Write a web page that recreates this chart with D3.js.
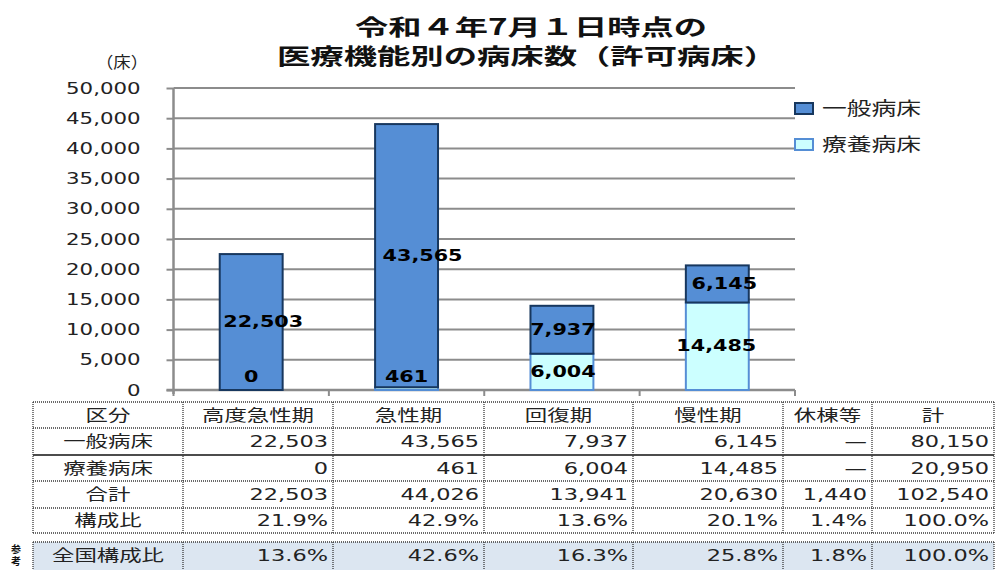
<!DOCTYPE html>
<html lang="ja">
<head>
<meta charset="utf-8">
<script src="https://cdn.jsdelivr.net/npm/d3@7"></script>
<style>
  html, body { margin: 0; padding: 0; background: #fff; }
  svg { display: block; }
  text { font-family: "DejaVu Sans", "Noto Sans CJK JP", sans-serif; }
  .jp { font-family: "Noto Sans CJK JP", "DejaVu Sans", sans-serif; }
</style>
</head>
<body>
<svg id="chart" width="997" height="570"></svg>
<script>
// ---- data ----
const categories = ["高度急性期", "急性期", "回復期", "慢性期"];
const seriesNames = ["一般病床", "療養病床"];
const ippan = [22503, 43565, 7937, 6145];   // 一般病床
const ryoyo = [0, 461, 6004, 14485];         // 療養病床
const yTicks = [0, 5000, 10000, 15000, 20000, 25000, 30000, 35000, 40000, 45000, 50000];

// table
const tableHeader = ["区分", "高度急性期", "急性期", "回復期", "慢性期", "休棟等", "計"];
const idleBeds = [null, null, 1440];          // 休棟等: 一般, 療養, 合計
const rowTotals = [80150, 20950, 102540];     // 計: 一般, 療養, 合計
const totals = [22503, 44026, 13941, 20630];  // 合計
const shareLocal = [21.9, 42.9, 13.6, 20.1, 1.4, 100.0];
const shareNational = [13.6, 42.6, 16.3, 25.8, 1.8, 100.0];

// ---- helpers ----
const svg = d3.select("#chart");
const fmt = d3.format(",");
const pct = v => v.toFixed(1) + "%";

// widen text horizontally by factor k
function stretch(sel, k) {
  sel.each(function () {
    const L = this.getComputedTextLength();
    if (L > 0) d3.select(this).attr("textLength", L * k).attr("lengthAdjust", "spacingAndGlyphs");
  });
}
function fitTo(sel, w) {
  sel.attr("textLength", w).attr("lengthAdjust", "spacingAndGlyphs");
}

// ---- title ----
svg.append("text").attr("class", "jp")
  .attr("x", 531).attr("y", 25).attr("text-anchor", "middle").attr("dominant-baseline", "central")
  .attr("font-size", 22).attr("font-weight", "bold").attr("fill", "#111")
  .text("令和４年7月１日時点の").call(fitTo, 352);
svg.append("text").attr("class", "jp")
  .attr("x", 527).attr("y", 54).attr("text-anchor", "middle").attr("dominant-baseline", "central")
  .attr("font-size", 22).attr("font-weight", "bold").attr("fill", "#111")
  .text("医療機能別の病床数（許可病床）").call(fitTo, 500);

svg.append("text").attr("class", "jp")
  .attr("x", 122).attr("y", 61).attr("text-anchor", "middle").attr("dominant-baseline", "central")
  .attr("font-size", 16).attr("fill", "#222")
  .text("（床）").call(fitTo, 52);

// ---- scales ----
const plotL = 173.5, plotR = 795, plotT = 88, plotB = 390;
const y = d3.scaleLinear().domain([0, 50000]).range([plotB, plotT]);
const x = d3.scaleBand().domain(categories).range([plotL, plotR])
  .paddingInner(0.595).paddingOuter(0.2975);

const axisColor = "#8c8c8c";

// gridlines
svg.append("g").selectAll("line").data(yTicks.filter(v => v > 0)).join("line")
  .attr("x1", plotL).attr("x2", plotR)
  .attr("y1", d => y(d)).attr("y2", d => y(d))
  .attr("stroke", axisColor).attr("stroke-width", 2);

// y axis
const yAxis = svg.append("g").attr("transform", `translate(${plotL},0)`)
  .call(d3.axisLeft(y).tickValues(yTicks).tickFormat(fmt).tickSize(7).tickPadding(26));
yAxis.select(".domain").attr("stroke", axisColor).attr("stroke-width", 2.5)
  .attr("d", `M0,${plotT}V${plotB + 4}`);
yAxis.selectAll(".tick line").attr("stroke", axisColor).attr("stroke-width", 2);
yAxis.selectAll(".tick text").attr("font-size", 16).attr("fill", "#222")
  .attr("font-family", "DejaVu Sans").call(stretch, 1.33);

// x axis with ticks at category boundaries
const bounds = categories.map(c => x(c) + x.bandwidth() / 2 - x.step() / 2);
bounds.push(bounds[bounds.length - 1] + x.step());
svg.append("line").attr("x1", plotL - 7).attr("x2", plotR)
  .attr("y1", plotB).attr("y2", plotB).attr("stroke", axisColor).attr("stroke-width", 2.5);
svg.append("g").selectAll("line").data(bounds).join("line")
  .attr("x1", d => d).attr("x2", d => d).attr("y1", plotB).attr("y2", plotB + 6)
  .attr("stroke", axisColor).attr("stroke-width", 2);

// ---- stacked bars ----
const rows = categories.map((c, i) => ({ cat: c, ryoyo: ryoyo[i], ippan: ippan[i] }));
const stack = d3.stack().keys(["ryoyo", "ippan"])(rows);
const styles = {
  ippan: { fill: "#558ED5", stroke: "#17375E" },
  ryoyo: { fill: "#CCFFFF", stroke: "#558ED5" }
};

const layers = svg.append("g").selectAll("g").data(stack).join("g")
  .attr("fill", d => styles[d.key].fill).attr("stroke", d => styles[d.key].stroke);
layers.selectAll("rect").data(d => d).join("rect")
  .attr("x", d => x(d.data.cat)).attr("width", x.bandwidth())
  .attr("y", d => y(d[1])).attr("height", d => y(d[0]) - y(d[1]))
  .attr("stroke-width", 2);

// value labels (the 一般病床 labels sit a little right of centre on some bars)
const labelNudge = { ippan: [12, 16, 1, 7], ryoyo: [0, 0, 1, -1] };
const labelData = stack.flatMap(s => s.map((d, i) => ({ key: s.key, i, d })));
svg.append("g").selectAll("text").data(labelData).join("text")
  .attr("x", o => x(o.d.data.cat) + x.bandwidth() / 2 + labelNudge[o.key][o.i])
  .attr("y", o => Math.min((y(o.d[0]) + y(o.d[1])) / 2, y(0) - 13))
  .attr("text-anchor", "middle").attr("dominant-baseline", "central")
  .attr("font-size", 15).attr("font-weight", "bold").attr("fill", "#000")
  .attr("font-family", "DejaVu Sans")
  .text(o => fmt(o.d[1] - o.d[0]))
  .call(stretch, 1.38);

// ---- legend ----
const legend = svg.append("g");
const legendKeys = ["ippan", "ryoyo"];
legendKeys.forEach((k, i) => {
  const cy = 108 + i * 36;
  legend.append("rect").attr("x", 795).attr("y", cy - 5).attr("width", 18).attr("height", 11)
    .attr("fill", styles[k].fill).attr("stroke", styles[k].stroke).attr("stroke-width", 2);
  legend.append("text").attr("class", "jp").attr("x", 822).attr("y", cy - 1)
    .attr("dominant-baseline", "central").attr("font-size", 18).attr("fill", "#222")
    .text(seriesNames[i]).call(fitTo, 99);
});

// ---- table ----
const colX = [33, 183, 333, 484, 633, 783, 872, 994];
const rowY = [402, 428, 455, 481, 508, 533];
const natY = [542, 570];
const tbl = svg.append("g");

const tableRows = [
  { label: "一般病床", cells: ippan.map(fmt).concat([idleBeds[0] == null ? "—" : fmt(idleBeds[0]), fmt(rowTotals[0])]) },
  { label: "療養病床", cells: ryoyo.map(fmt).concat([idleBeds[1] == null ? "—" : fmt(idleBeds[1]), fmt(rowTotals[1])]) },
  { label: "合計", cells: totals.map(fmt).concat([fmt(idleBeds[2]), fmt(rowTotals[2])]) },
  { label: "構成比", cells: shareLocal.map(pct) }
];

// national row background
tbl.append("rect").attr("x", colX[0]).attr("y", natY[0])
  .attr("width", colX[colX.length - 1] - colX[0]).attr("height", natY[1] - natY[0])
  .attr("fill", "#DCE6F1");

const dotted = { stroke: "#3a3a3a", "stroke-width": 1.3, "stroke-dasharray": "1,1" };
function hline(y0, x0, x1, solid) {
  const l = tbl.append("line").attr("x1", x0).attr("x2", x1).attr("y1", y0).attr("y2", y0);
  if (solid) l.attr("stroke", "#111").attr("stroke-width", 1.6);
  else Object.entries(dotted).forEach(([k, v]) => l.attr(k, v));
}
function vline(xx, y0, y1) {
  const l = tbl.append("line").attr("x1", xx).attr("x2", xx).attr("y1", y0).attr("y2", y1);
  Object.entries(dotted).forEach(([k, v]) => l.attr(k, v));
}
rowY.forEach((yy, i) => hline(yy, colX[0], colX[colX.length - 1], i === 2));
colX.forEach(xx => vline(xx, rowY[0], rowY[rowY.length - 1]));
hline(natY[0], colX[0], colX[colX.length - 1], false);
colX.forEach(xx => vline(xx, natY[0], natY[1]));

const cellFont = 16, cellStretch = 1.4;
function cellText(txt, ci, yc, align) {
  const t = tbl.append("text").attr("y", yc).attr("dominant-baseline", "central")
    .attr("font-size", cellFont).attr("fill", "#222").text(txt);
  if (align === "middle") t.attr("x", (colX[ci] + colX[ci + 1]) / 2).attr("text-anchor", "middle");
  else t.attr("x", colX[ci + 1] - 5).attr("text-anchor", "end");
  t.call(stretch, cellStretch);
}

// header
tableHeader.forEach((h, ci) => cellText(h, ci, (rowY[0] + rowY[1]) / 2, "middle"));
// body
tableRows.forEach((r, ri) => {
  const yc = (rowY[ri + 1] + rowY[ri + 2]) / 2;
  cellText(r.label, 0, yc, "middle");
  r.cells.forEach((c, ci) => cellText(c, ci + 1, yc, "end"));
});
// national share row
const natC = (natY[0] + natY[1]) / 2 - 1;
cellText("全国構成比", 0, natC, "middle");
shareNational.forEach((v, ci) => cellText(pct(v), ci + 1, natC, "end"));

// side note, set vertically
tbl.append("text").attr("class", "jp")
  .attr("x", 16).attr("y", 544)
  .attr("writing-mode", "vertical-rl")
  .attr("font-size", 10).attr("font-weight", "bold").attr("fill", "#111")
  .attr("letter-spacing", 2)
  .text("参考");
</script>
</body>
</html>
